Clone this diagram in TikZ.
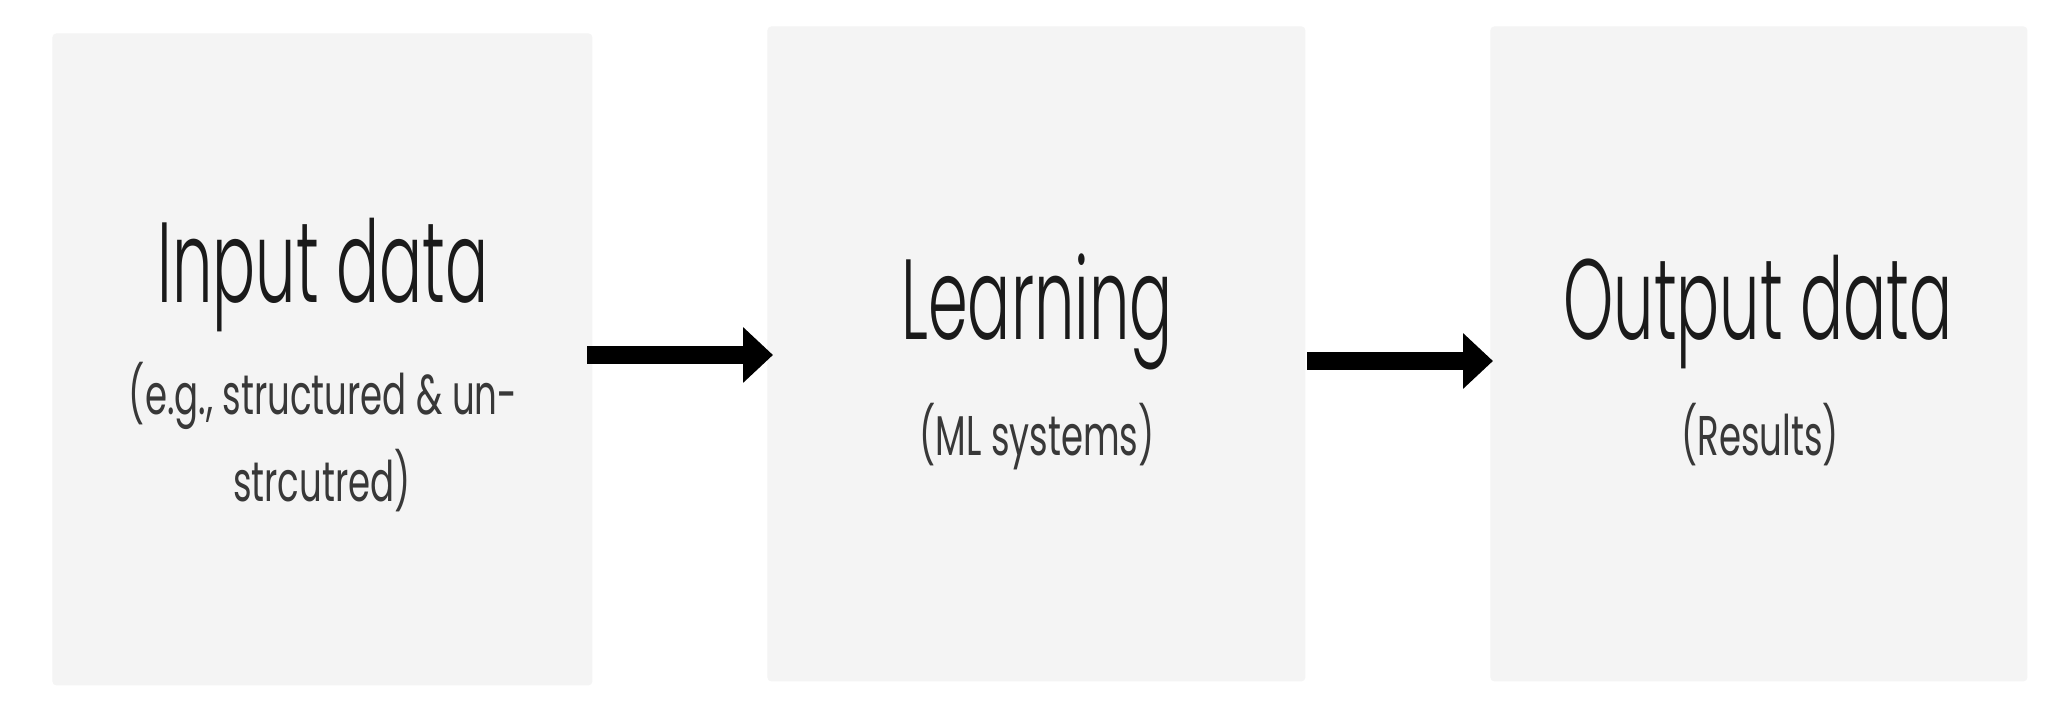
\documentclass[tikz,border=0pt]{standalone}
\usepackage{fontspec}
\setmainfont{Poppins}[UprightFont=* Light, FakeStretch=0.56]
\newfontfamily\subfont{Poppins}[FakeStretch=0.635]
\usetikzlibrary{arrows.meta}
\definecolor{boxgray}{HTML}{F4F4F4}
\definecolor{titlecol}{HTML}{1A1A1A}
\definecolor{subcol}{HTML}{383838}
\tikzset{
  stagebox/.style={fill=boxgray, draw=none, rounded corners=2pt, anchor=north west, inner sep=0pt},
  titletext/.style={anchor=base, text=titlecol, font=\fontsize{57pt}{68pt}\selectfont, inner sep=0pt},
  subtext/.style={anchor=base, text=subcol, font=\subfont\fontsize{28pt}{46pt}\selectfont, inner sep=0pt, align=center},
  flowarrow/.style={line width=9pt, -{Triangle[length=15pt,width=27pt]}, black}
}
\begin{document}
\begin{tikzpicture}[x=0.5pt,y=-0.5pt]
\useasboundingbox (0,0) rectangle (2053,710);
\fill[white] (0,0) rectangle (2053,710);
\node[stagebox, minimum width=270pt, minimum height=326pt] (b1) at (52,33) {};
\node[stagebox, minimum width=269pt, minimum height=327.5pt] (b2) at (767,26) {};
\node[stagebox, minimum width=268.5pt, minimum height=327.5pt] (b3) at (1490,26) {};
\node[titletext] (t1) at (323,303) {Input data};
\node[subtext] (s1a) at (323,415) {(e.g., structured \& un-};
\node[subtext] (s1b) at (322,502) {strcutred)};
\node[titletext] (t2) at (1037,340) {Learning};
\node[subtext] (s2) at (1037,456) {(ML systems)};
\node[titletext] (t3) at (1758,340) {Output data};
\node[subtext] (s3) at (1760,456) {(Results)};
\coordinate (a1s) at (587,355);
\coordinate (a2s) at (1307,361);
\draw[flowarrow, shorten >=-3pt] (a1s) -- (a1s -| b2.west);
\draw[flowarrow, shorten >=-1.5pt] (a2s) -- (a2s -| b3.west);
\end{tikzpicture}
\end{document}
